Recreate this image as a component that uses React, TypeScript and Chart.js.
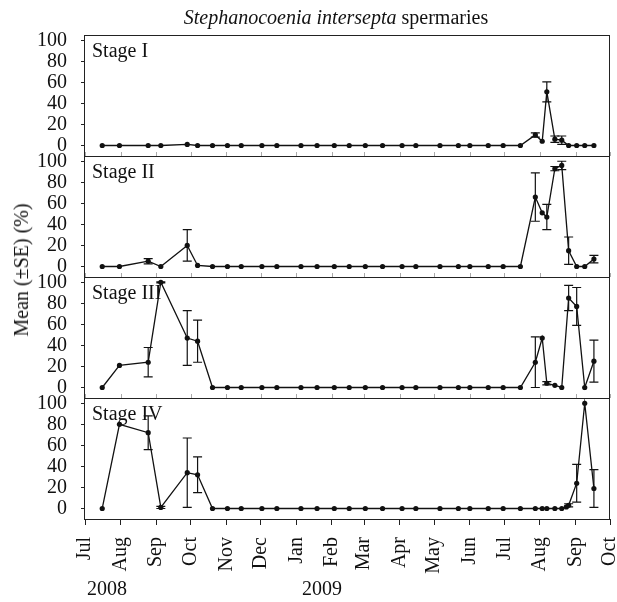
import React, { useEffect, useRef } from "react";
import { Chart, registerables } from "chart.js";

Chart.register(...registerables);

// ---------- data ----------
const sampleDates = [
  "2008-07-16", "2008-07-31", "2008-08-25", "2008-09-05", "2008-09-28", "2008-10-07",
  "2008-10-20", "2008-11-02", "2008-11-14", "2008-12-02", "2008-12-15", "2009-01-05",
  "2009-01-19", "2009-02-03", "2009-02-16", "2009-03-02", "2009-03-17", "2009-04-03",
  "2009-04-15", "2009-05-06", "2009-05-22", "2009-06-01", "2009-06-17", "2009-06-30",
  "2009-07-15", "2009-07-28", "2009-08-03", "2009-08-07", "2009-08-14", "2009-08-20",
  "2009-08-24", "2009-08-26", "2009-09-02", "2009-09-09", "2009-09-17",
];

const stageIMean = [
  0, 0, 0, 0, 1, 0,
  0, 0, 0, 0, 0, 0, 0, 0, 0, 0, 0, 0, 0, 0, 0, 0, 0, 0,
  0, 10, 4, 51, 6, 5, null, 0, 0, 0, 0,
];
const stageISE = [
  0, 0, 0, 0, 0, 0,
  0, 0, 0, 0, 0, 0, 0, 0, 0, 0, 0, 0, 0, 0, 0, 0, 0, 0,
  0, 2, 0, 9.5, 3, 4, 0, 0, 0, 0, 0,
];

const stageIIMean = [
  0, 0, 5, 0, 20, 1,
  0, 0, 0, 0, 0, 0, 0, 0, 0, 0, 0, 0, 0, 0, 0, 0, 0, 0,
  0, 66, 51, 47, 93, 96, null, 15, 0, 0, 7,
];
const stageIISE = [
  0, 0, 2.5, 0, 15, 0,
  0, 0, 0, 0, 0, 0, 0, 0, 0, 0, 0, 0, 0, 0, 0, 0, 0, 0,
  0, 23, 0, 12, 2, 4, 0, 13, 0, 0, 3.5,
];

const stageIIIMean = [
  0, 21, 24, 100, 47, 44,
  0, 0, 0, 0, 0, 0, 0, 0, 0, 0, 0, 0, 0, 0, 0, 0, 0, 0,
  0, 24, 47, 4, 2, 0, null, 85, 77, 0, 25,
];
const stageIIISE = [
  0, 0, 14, 0.5, 26, 20,
  0, 0, 0, 0, 0, 0, 0, 0, 0, 0, 0, 0, 0, 0, 0, 0, 0, 0,
  0, 24, 0, 1.5, 0, 0, 0, 12, 18, 0, 20,
];

const stageIVMean = [
  0, 80, 72, 1, 34, 32,
  0, 0, 0, 0, 0, 0, 0, 0, 0, 0, 0, 0, 0, 0, 0, 0, 0, 0,
  0, 0, 0, 0, 0, 0, 1.5, 3, 24, 100, 19,
];
const stageIVSE = [
  0, 0, 16, 1, 33, 17,
  0, 0, 0, 0, 0, 0, 0, 0, 0, 0, 0, 0, 0, 0, 0, 0, 0, 0,
  0, 0, 0, 0, 0, 0, 0, 1.5, 18, 0, 18,
];

const stageNames = ["Stage I", "Stage II", "Stage III", "Stage IV"];
const monthTickDates = [
  "2008-07-01", "2008-08-01", "2008-09-01", "2008-10-01", "2008-11-01", "2008-12-01",
  "2009-01-01", "2009-02-01", "2009-03-01", "2009-04-01", "2009-05-01", "2009-06-01",
  "2009-07-01", "2009-08-01", "2009-09-01", "2009-10-01",
];
const monthLabels = [
  "Jul", "Aug", "Sep", "Oct", "Nov", "Dec", "Jan", "Feb", "Mar", "Apr", "May", "Jun",
  "Jul", "Aug", "Sep", "Oct",
];
const yTickValues = [0, 20, 40, 60, 80, 100];
const yearLabels = ["2008", "2009"];

const stageMeans = [stageIMean, stageIIMean, stageIIIMean, stageIVMean];
const stageSEs = [stageISE, stageIISE, stageIIISE, stageIVSE];

// ---------- helpers / layout ----------
const ORIGIN = Date.UTC(2008, 6, 1);
const toDay = (s: string) => {
  const [y, m, d] = s.split("-").map(Number);
  return Math.round((Date.UTC(y, m - 1, d) - ORIGIN) / 86400000);
};
const sampleDays = sampleDates.map(toDay);
const monthDays = monthTickDates.map(toDay);

const FONT = "'Liberation Serif', 'Times New Roman', serif";
const W = 617;
const H = 602;
const PANEL_H = 121;
const PANEL_TOPS = [35, 156, 277, 398];
const PAD = 14;
const X_AXIS_H = 83;
const Y_AXIS_W = 85;
const RIGHT_PAD = 7;
const CAP = 4.5;
const INK = "#111";

function Panel({ index }: { index: number }) {
  const ref = useRef<HTMLCanvasElement>(null);
  const isLast = index === 3;
  const canvasTop = PANEL_TOPS[index] - PAD;
  const canvasH = isLast ? H - canvasTop : PANEL_H + 2 * PAD;

  useEffect(() => {
    if (!ref.current) return;
    const mean = stageMeans[index];
    const se = stageSEs[index];
    const data = sampleDays.map((d, i) => ({ x: d, y: mean[i] }));

    const decor = {
      id: "panelDecor",
      afterDatasetsDraw(chart: any) {
        const { ctx, chartArea: a, scales } = chart;
        const xs = scales.x;
        const ys = scales.y;
        ctx.save();
        // error bars
        ctx.strokeStyle = INK;
        ctx.lineWidth = 1.2;
        mean.forEach((m: number | null, i: number) => {
          const e = se[i];
          if (m == null || !e) return;
          const px = xs.getPixelForValue(sampleDays[i]);
          const y1 = ys.getPixelForValue(m + e);
          const y2 = ys.getPixelForValue(m - e);
          ctx.beginPath();
          ctx.moveTo(px, y1);
          ctx.lineTo(px, y2);
          ctx.moveTo(px - CAP, y1);
          ctx.lineTo(px + CAP, y1);
          ctx.moveTo(px - CAP, y2);
          ctx.lineTo(px + CAP, y2);
          ctx.stroke();
        });
        // frame
        ctx.strokeStyle = "#222";
        ctx.lineWidth = 1;
        ctx.strokeRect(a.left - 0.5, a.top + 0.5, a.right - a.left, a.bottom - a.top);
        // faint month ticks on the inner panel boundaries
        if (!isLast) {
          ctx.strokeStyle = "#aaa";
          monthDays.forEach((d) => {
            const px = Math.round(xs.getPixelForValue(d)) + 0.5;
            ctx.beginPath();
            ctx.moveTo(px, a.bottom);
            ctx.lineTo(px, a.bottom - 4);
            ctx.stroke();
          });
        }
        // stage label
        ctx.fillStyle = INK;
        ctx.font = `20px ${FONT}`;
        ctx.textAlign = "left";
        ctx.textBaseline = "alphabetic";
        ctx.fillText(stageNames[index], a.left + 7, a.top + 21.5);
        ctx.restore();
      },
    };

    const chart = new Chart(ref.current, {
      type: "line",
      data: {
        datasets: [
          {
            data,
            borderColor: INK,
            backgroundColor: INK,
            borderWidth: 1.3,
            pointRadius: 2.6,
            pointHoverRadius: 2.6,
            pointBackgroundColor: INK,
            pointBorderColor: INK,
            pointBorderWidth: 0,
            tension: 0,
            spanGaps: true,
          } as any,
        ],
      },
      options: {
        responsive: false,
        animation: false,
        events: [],
        layout: {
          padding: { left: 0, right: RIGHT_PAD, top: PAD, bottom: isLast ? 0 : PAD },
        },
        plugins: {
          legend: { display: false },
          tooltip: { enabled: false },
          title: { display: false },
        },
        scales: {
          x: {
            type: "linear",
            min: monthDays[0],
            max: monthDays[monthDays.length - 1],
            display: isLast,
            afterBuildTicks: (s: any) => {
              s.ticks = monthDays.map((v) => ({ value: v }));
            },
            afterFit: (s: any) => {
              if (!isLast) return;
              s.height = X_AXIS_H;
              s.paddingLeft = 0;
              s.paddingRight = 0;
            },
            ticks: {
              autoSkip: false,
              minRotation: 90,
              maxRotation: 90,
              padding: 12,
              color: INK,
              font: { family: FONT, size: 20 },
              callback: (_v: any, i: number) => monthLabels[i],
            },
            grid: { drawOnChartArea: false, drawTicks: true, tickLength: 6, color: "#222" },
            border: { display: false },
          },
          y: {
            type: "linear",
            min: -10,
            max: 105,
            afterBuildTicks: (s: any) => {
              s.ticks = yTickValues.map((v) => ({ value: v }));
            },
            afterFit: (s: any) => {
              s.width = Y_AXIS_W;
              s.paddingTop = 0;
              s.paddingBottom = 0;
            },
            ticks: {
              autoSkip: false,
              padding: 14,
              color: INK,
              font: { family: FONT, size: 20 },
              callback: (v: any) => String(v),
            },
            grid: { drawOnChartArea: false, drawTicks: true, tickLength: 4, color: "#222" },
            border: { display: false },
          },
        },
      } as any,
      plugins: [decor],
    });
    return () => chart.destroy();
  }, [index]);

  return (
    <canvas
      ref={ref}
      width={W}
      height={canvasH}
      style={{ position: "absolute", left: 0, top: canvasTop, display: "block" }}
    />
  );
}

const textStyle: React.CSSProperties = {
  position: "absolute",
  fontFamily: FONT,
  fontSize: 20,
  lineHeight: "20px",
  color: INK,
  whiteSpace: "nowrap",
};

export default function App() {
  return (
    <div
      style={{
        position: "absolute",
        left: 0,
        top: 0,
        width: W,
        height: H,
        background: "#fff",
        overflow: "hidden",
      }}
    >
      {[0, 1, 2, 3].map((i) => (
        <Panel key={i} index={i} />
      ))}
      <div style={{ ...textStyle, left: 336, top: 7, transform: "translateX(-50%)" }}>
        <i>Stephanocoenia intersepta</i> spermaries
      </div>
      <div
        style={{
          ...textStyle,
          left: 21,
          top: 270,
          transform: "translate(-50%, -50%) rotate(-90deg)",
        }}
      >
        Mean (±SE) (%)
      </div>
      <div style={{ ...textStyle, left: 87, top: 578 }}>{yearLabels[0]}</div>
      <div style={{ ...textStyle, left: 302, top: 578 }}>{yearLabels[1]}</div>
    </div>
  );
}
